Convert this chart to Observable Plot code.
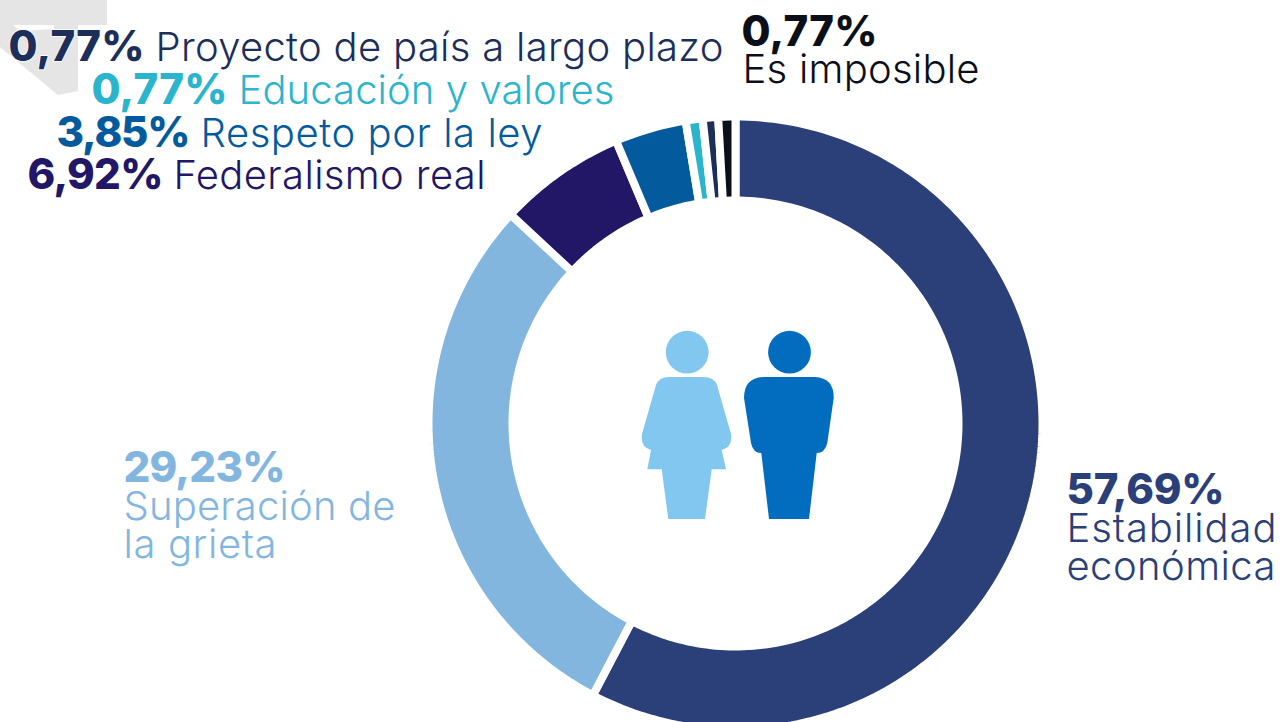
<!DOCTYPE html>
<html lang="es">
<head>
<meta charset="utf-8">
<script src="https://cdn.jsdelivr.net/npm/d3@7"></script>
<script src="https://cdn.jsdelivr.net/npm/@observablehq/plot@0.6"></script>
<style>html,body{margin:0;padding:0;background:#fff}svg{display:block}</style>
</head>
<body>
<div id="chart"></div>
<script>
// Data, clockwise from the top of the ring
const categories = ["Estabilidad económica","Superación de la grieta","Federalismo real","Respeto por la ley","Educación y valores","Proyecto de país a largo plazo","Es imposible"];
const shareLabels = ["57,69%","29,23%","6,92%","3,85%","0,77%","0,77%","0,77%"];
// Slice sizes as they are drawn on the reference ring
const shares = [57.69,29.23,6.72,3.76,0.89,0.81,0.90];
const colours = ["#2B3F78","#83B6DF","#221666","#035B9E","#2AB5CD","#1C2E5A","#0A0F1A"];

// Layout
const W = 1283, H = 722, cx = 735, cy = 423, rOuter = 303, rInner = 227, gap = 8;
const FONT = "Inter, sans-serif";
const boldLabels = [
  {i:0,x:1066,y:503,w:158},
  {i:1,x:123,y:481,w:162},
  {i:2,x:27,y:188,w:136},
  {i:3,x:56,y:146,w:134},
  {i:4,x:91,y:103,w:136},
  {i:5,x:8,y:60,w:136},
  {i:6,x:741,y:45,w:136}
];
const lightLabels = [
  {i:0,t:"Estabilidad",x:1066,y:541,w:210},
  {i:0,t:"económica",x:1066,y:579,w:209},
  {i:1,t:"Superación de",x:123,y:519,w:272},
  {i:1,t:"la grieta",x:123,y:557,w:153},
  {i:2,t:"Federalismo real",x:173,y:188,w:312},
  {i:3,t:"Respeto por la ley",x:200,y:146,w:342},
  {i:4,t:"Educación y valores",x:238,y:103,w:376},
  {i:5,t:"Proyecto de país a largo plazo",x:155,y:60,w:568},
  {i:6,t:"Es imposible",x:742,y:82,w:237}
];

// Ring polygons derived from the shares
let cum = 0;
const ring = [];
shares.forEach((v,i)=>{
  const a0 = cum/100*2*Math.PI; cum += v;
  const a1 = cum/100*2*Math.PI;
  const n = Math.max(2,Math.ceil(v*3));
  const ro = rOuter+gap/2, ri = rInner-gap/2;
  for(let k=0;k<=n;k++){const a=a0+(a1-a0)*k/n; ring.push({c:categories[i],x:cx+ro*Math.sin(a),y:cy-ro*Math.cos(a)});}
  for(let k=n;k>=0;k--){const a=a0+(a1-a0)*k/n; ring.push({c:categories[i],x:cx+ri*Math.sin(a),y:cy-ri*Math.cos(a)});}
});

const heads = [{x:686.7,y:351.7,fill:"#82C7F0"},{x:789,y:351.7,fill:"#026DBF"}];
const shapes = [
  {fill:"#E5E5E5",d:"M0,0H107V25H78V91L58,95L0,47Z"},
  {fill:"#FFFFFF",d:"M13,25H54V29L20,31Z"},
  {fill:"#82C7F0",d:"M669,377H703Q714,377 717,385L731,434Q733,447 721.7,450L726,469.3H711.7L705,519H668.3L661.7,469.3H647.3L651,450Q640,447 642,434L656,385Q659,377 669,377Z"},
  {fill:"#026DBF",d:"M763,377H815Q834,378 833.7,398L827.3,443Q825,453 816.7,453L809,519H769L761.3,453Q753,453 751,443L744,398Q744,378 763,377Z"}
];
const shapeMark = () => {
  const g = d3.create("svg:g");
  g.selectAll("path").data(shapes).join("path").attr("d",d=>d.d).attr("fill",d=>d.fill);
  return g.node();
};

const plot = Plot.plot({
  width:W,height:H,margin:0,
  style:{background:"#fff",overflow:"hidden"},
  x:{domain:[0,W],range:[0,W],axis:null},
  y:{domain:[0,H],range:[0,H],axis:null},
  color:{domain:categories,range:colours},
  marks:[
    shapeMark,
    Plot.dot(heads,{x:"x",y:"y",r:21.4,fill:"fill"}),
    Plot.line(ring,{x:"x",y:"y",z:"c",fill:"c",stroke:"#fff",strokeWidth:gap,curve:"linear-closed",strokeLinejoin:"miter"}),
    Plot.text(boldLabels,{x:"x",y:"y",text:d=>shareLabels[d.i],fill:d=>categories[d.i],textAnchor:"start",lineAnchor:"bottom",fontSize:42,fontFamily:FONT,fontWeight:800,stroke:"#fff",strokeWidth:1.5,paintOrder:"stroke",className:"bold-label"}),
    Plot.text(lightLabels,{x:"x",y:"y",text:"t",fill:d=>categories[d.i],textAnchor:"start",lineAnchor:"bottom",fontSize:40,fontFamily:FONT,fontWeight:300,className:"light-label"})
  ]
});
// Fit each label to the width it has in the reference
d3.select(plot).selectAll("g.bold-label text").attr("textLength",(_,i)=>boldLabels[i].w);
d3.select(plot).selectAll("g.light-label text").attr("textLength",(_,i)=>lightLabels[i].w);
document.getElementById("chart").append(plot);
</script>
</body>
</html>
